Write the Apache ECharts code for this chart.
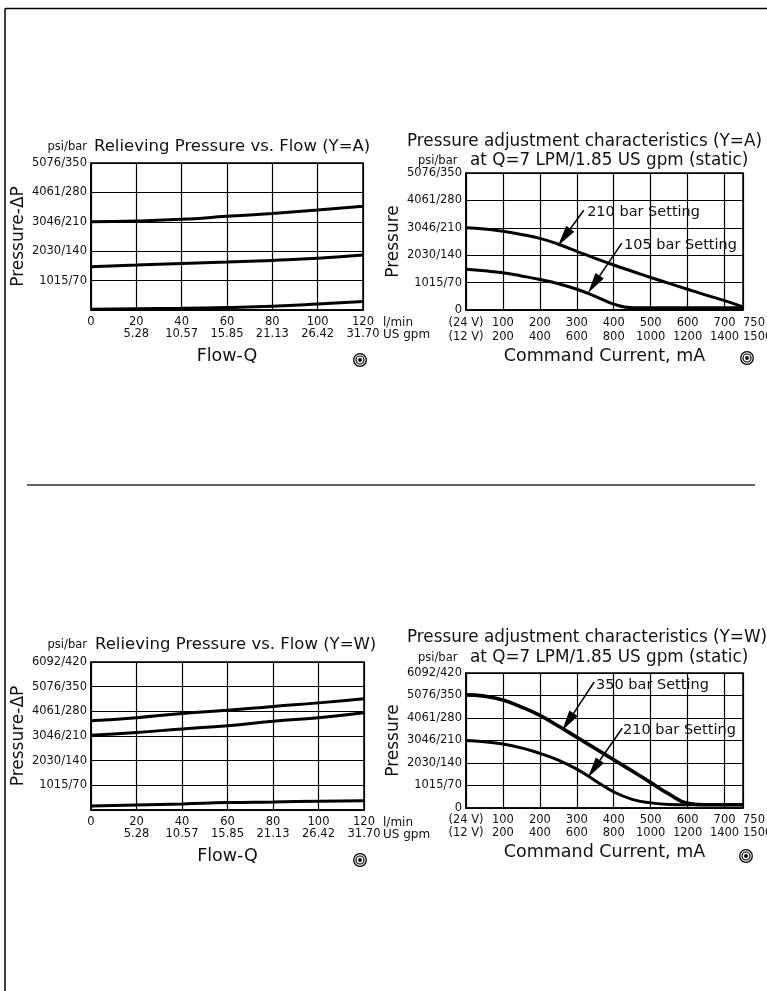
<!DOCTYPE html>
<html>
<head>
<meta charset="utf-8">
<script src="https://cdn.jsdelivr.net/npm/echarts@6/dist/echarts.min.js"></script>
<style>
html,body{margin:0;padding:0;background:#fff;}
#c{width:767px;height:991px;}
</style>
</head>
<body>
<div id="c"></div>
<script>
// ---------- data ----------
const flowLpm = [0, 20, 40, 60, 80, 100, 120];
const flowGpm = ['', '5.28', '10.57', '15.85', '21.13', '26.42', '31.70'];
const currentTicks = [0, 100, 200, 300, 400, 500, 600, 700, 750];
const current24V = ['(24 V)', '100', '200', '300', '400', '500', '600', '700', '750'];
const current12V = ['(12 V)', '200', '400', '600', '800', '1000', '1200', '1400', '1500'];
const pressureBar = [0, 70, 140, 210, 280, 350, 420];
const pressureLabels = ['0', '1015/70', '2030/140', '3046/210', '4061/280', '5076/350', '6092/420'];

// Relieving pressure vs flow (Y=A), bar
const relA_high = [210, 212, 216, 223, 230, 238, 247];
const relA_mid = [103, 107, 111, 114, 118, 123, 131];
const relA_low = [2, 3, 4, 6, 9, 14, 20];
// Relieving pressure vs flow (Y=W), bar
const relW_high = [253, 262, 274, 283, 294, 304, 316];
const relW_mid = [212, 220, 230, 239, 252, 262, 276];
const relW_low = [11, 14, 17, 21, 23, 25, 26];

// Pressure adjustment vs command current (mA, 24 V)
const currentMa = [0, 50, 100, 150, 200, 250, 300, 350, 400, 450, 500, 550, 600, 650, 700, 750];
const adjA_210 = [210, 207, 201, 193, 183, 168, 150, 132, 115, 99, 83, 68, 53, 38, 24, 8];
const adjA_105 = [104, 100, 95, 87, 78, 67, 53, 35, 15, 6, 6, 6, 6, 6, 6, 6];
const adjW_350 = [352, 348, 336, 314, 288, 255, 220, 185, 150, 115, 79, 43, 15, 10, 10, 10];
const adjW_210 = [210, 206, 199, 187, 170, 149, 121, 85, 50, 27, 16, 11, 10, 10, 10, 10];

// annotation arrows: [fromX, fromY, toX, toY, textX, textY] in data units
const arrowsA = [[319, 255, 249, 164, 328, 250], [422, 171, 330, 43, 428, 166]];
const arrowsALabels = ['210 bar Setting', '105 bar Setting'];
const arrowsW = [[347, 392, 260, 240, 352, 383], [423, 248, 330, 95, 425, 243]];
const arrowsWLabels = ['350 bar Setting', '210 bar Setting'];

// ---------- chart ----------
const FONT = 'DejaVu Sans';
const INK = '#111';
const chart = echarts.init(document.getElementById('c'), null, {renderer: 'canvas'});

function pairs(xs, ys) { return xs.map((x, i) => [x, ys[i]]); }

function yLabel(hideZero) {
  return function (v) {
    if (hideZero && v === 0) return '';
    const i = pressureBar.indexOf(v);
    return i >= 0 ? pressureLabels[i] : '';
  };
}

function flowAxis(gi, lh) {
  return {
    gridIndex: gi, type: 'value', min: 0, max: 120, interval: 20,
    name: 'Flow-Q', nameLocation: 'middle', nameGap: 37,
    nameTextStyle: {fontFamily: FONT, fontSize: 17.5, color: INK},
    axisLine: {show: true, lineStyle: {color: '#000', width: 1.5}},
    axisTick: {show: false},
    splitLine: {show: true, lineStyle: {color: '#000', width: 1.2}},
    axisLabel: {
      margin: 6, fontFamily: FONT, fontSize: 11.5, color: INK, lineHeight: lh,
      formatter: function (v) {
        const i = flowLpm.indexOf(v);
        return i >= 0 ? (flowLpm[i] + (flowGpm[i] ? '\n' + flowGpm[i] : '')) : '';
      }
    }
  };
}

function currentAxis(gi, lh, gap) {
  return {
    gridIndex: gi, type: 'value', min: 0, max: 750, interval: 100,
    name: 'Command Current, mA', nameLocation: 'middle', nameGap: gap,
    nameTextStyle: {fontFamily: FONT, fontSize: 17.5, color: INK},
    axisLine: {show: true, lineStyle: {color: '#000', width: 1.5}},
    axisTick: {show: false},
    splitLine: {show: true, lineStyle: {color: '#000', width: 1.2}},
    axisLabel: {
      margin: 6, fontFamily: FONT, fontSize: 11.5, color: INK, lineHeight: lh,
      showMaxLabel: true, alignMaxLabel: 'left',
      formatter: function (v) {
        const i = currentTicks.indexOf(v);
        return i >= 0 ? current24V[i] + '\n' + current12V[i] : '';
      }
    }
  };
}

function pressureAxis(gi, max, name, hideZero) {
  return {
    gridIndex: gi, type: 'value', min: 0, max: max, interval: 70,
    name: name, nameLocation: 'middle', nameGap: 64, nameRotate: 90,
    nameTextStyle: {fontFamily: FONT, fontSize: 17, color: INK},
    axisLine: {show: true, lineStyle: {color: '#000', width: 1.5}},
    axisTick: {show: false},
    splitLine: {show: true, lineStyle: {color: '#000', width: 1.2}},
    axisLabel: {margin: 4, fontFamily: FONT, fontSize: 11.5, color: INK, formatter: yLabel(hideZero)}
  };
}

function curve(gi, xs, ys, w) {
  return {
    type: 'line', xAxisIndex: gi, yAxisIndex: gi, data: pairs(xs, ys),
    smooth: 0.5, showSymbol: false, symbol: 'none',
    lineStyle: {color: '#000', width: w || 3}, silent: true, z: 5
  };
}

function arrowSeries(gi, data, labels) {
  return {
    type: 'custom', xAxisIndex: gi, yAxisIndex: gi, data: data, clip: false, silent: true, z: 6,
    renderItem: function (params, api) {
      const p1 = api.coord([api.value(0), api.value(1)]);
      const p2 = api.coord([api.value(2), api.value(3)]);
      const pt = api.coord([api.value(4), api.value(5)]);
      const dx = p2[0] - p1[0], dy = p2[1] - p1[1];
      const len = Math.sqrt(dx * dx + dy * dy);
      const ux = dx / len, uy = dy / len;
      const L = 21, W = 10;
      const bx = p2[0] - ux * L, by = p2[1] - uy * L;
      const nx = -uy, ny = ux;
      return {
        type: 'group',
        children: [
          {type: 'line', shape: {x1: p1[0], y1: p1[1], x2: bx, y2: by}, style: {stroke: '#000', lineWidth: 1.5}},
          {type: 'polygon', shape: {points: [[p2[0], p2[1]], [bx + nx * W / 2, by + ny * W / 2], [bx - nx * W / 2, by - ny * W / 2]]}, style: {fill: '#000'}},
          {type: 'text', style: {x: pt[0], y: pt[1], text: labels[params.dataIndex], fill: INK, font: '14.5px "' + FONT + '"', align: 'left', verticalAlign: 'middle'}}
        ]
      };
    }
  };
}

function target(cx, cy) {
  return {
    type: 'group', children: [
      {type: 'circle', shape: {cx: cx, cy: cy, r: 6.3}, style: {fill: 'none', stroke: '#000', lineWidth: 1.3}},
      {type: 'circle', shape: {cx: cx, cy: cy, r: 4}, style: {fill: 'none', stroke: '#000', lineWidth: 1.2}},
      {type: 'circle', shape: {cx: cx, cy: cy, r: 1.9}, style: {fill: '#000'}}
    ]
  };
}

function txt(x, y, s, size, align) {
  return {type: 'text', style: {x: x, y: y, text: s, fill: INK, font: size + 'px "' + FONT + '"', align: align || 'left', verticalAlign: 'middle'}};
}

const gridBase = {show: true, borderColor: '#000', borderWidth: 1.5, backgroundColor: 'transparent', containLabel: false, outerBoundsMode: 'none'};

const option = {
  animation: false,
  backgroundColor: '#fff',
  grid: [
    Object.assign({left: 91, top: 163, width: 272, height: 147}, gridBase),
    Object.assign({left: 466, top: 173, width: 277, height: 137}, gridBase),
    Object.assign({left: 91, top: 662, width: 273, height: 148}, gridBase),
    Object.assign({left: 466, top: 673, width: 277, height: 135}, gridBase)
  ],
  xAxis: [
    flowAxis(0, 12),
    currentAxis(1, 14, 37),
    flowAxis(2, 12),
    currentAxis(3, 13, 35)
  ],
  yAxis: [
    pressureAxis(0, 350, 'Pressure-\u0394P', true),
    pressureAxis(1, 350, 'Pressure', false),
    pressureAxis(2, 420, 'Pressure-\u0394P', true),
    pressureAxis(3, 420, 'Pressure', false)
  ],
  series: [
    curve(0, flowLpm, relA_high),
    curve(0, flowLpm, relA_mid),
    curve(0, flowLpm, relA_low),
    curve(1, currentMa, adjA_210),
    curve(1, currentMa, adjA_105),
    arrowSeries(1, arrowsA, arrowsALabels),
    curve(2, flowLpm, relW_high),
    curve(2, flowLpm, relW_mid),
    curve(2, flowLpm, relW_low),
    curve(3, currentMa, adjW_350, 3.6),
    curve(3, currentMa, adjW_210),
    arrowSeries(3, arrowsW, arrowsWLabels)
  ],
  graphic: [
    // page frame and separator
    {type: 'line', shape: {x1: 5, y1: 8.5, x2: 767, y2: 8.5}, style: {stroke: '#000', lineWidth: 1.5}},
    {type: 'line', shape: {x1: 5, y1: 8.5, x2: 5, y2: 991}, style: {stroke: '#000', lineWidth: 1.5}},
    {type: 'line', shape: {x1: 27, y1: 485, x2: 755, y2: 485}, style: {stroke: '#333', lineWidth: 1.5}},
    // top-left titles
    txt(87, 147, 'psi/bar', 11.5, 'right'),
    txt(94, 147, 'Relieving Pressure vs. Flow (Y=A)', 16.5),
    txt(383, 323, 'l/min', 12),
    txt(383, 335, 'US gpm', 12),
    target(360, 360),
    // top-right titles
    txt(407, 142, 'Pressure adjustment characteristics (Y=A)', 16.8),
    txt(418, 161, 'psi/bar', 11.5),
    txt(470, 161, 'at Q=7 LPM/1.85 US gpm (static)', 16.8),
    target(747, 358),
    // bottom-left titles
    txt(87, 645, 'psi/bar', 11.5, 'right'),
    txt(95, 645, 'Relieving Pressure vs. Flow (Y=W)', 16.5),
    txt(383, 823, 'l/min', 12),
    txt(383, 835, 'US gpm', 12),
    target(360, 860),
    // bottom-right titles
    txt(407, 638, 'Pressure adjustment characteristics (Y=W)', 16.8),
    txt(418, 658, 'psi/bar', 11.5),
    txt(470, 658, 'at Q=7 LPM/1.85 US gpm (static)', 16.8),
    target(746, 856)
  ]
};
chart.setOption(option);
</script>
</body>
</html>
